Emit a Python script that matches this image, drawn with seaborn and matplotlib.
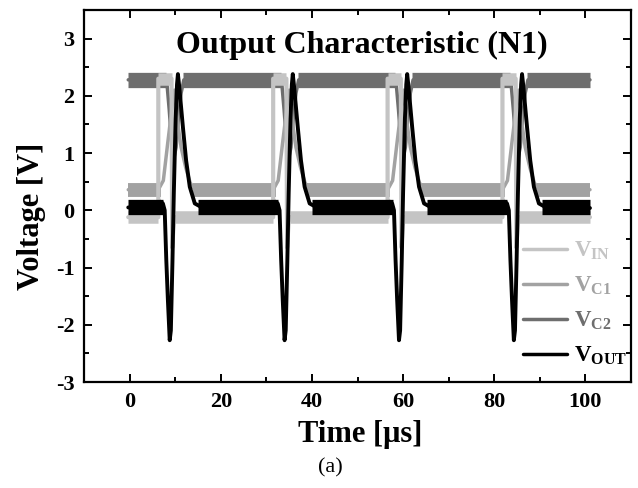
import numpy as np
import pandas as pd
import matplotlib
matplotlib.use('Agg')
import matplotlib.pyplot as plt
import seaborn as sns

# pulse start times (rising edge of V_IN), us
pulse_t0 = [6.3, 31.5, 56.6, 81.8]
t_first, t_last = -0.3, 101.0

# one pulse of each trace, times relative to pulse start
vin_dt = [0.0, 0.0, 2.9, 3.05, 3.4, 3.7]
vin_v = [-0.12, 2.3, 2.3, -0.65, -0.2, -0.12]
vc1_dt = [0.0, 1.1, 2.1, 3.2, 3.5, 3.8, 4.3, 5.0, 6.0, 7.0, 8.0]
vc1_v = [0.36, 0.52, 1.2, 1.92, 2.1, 1.9, 1.5, 1.1, 0.75, 0.48, 0.36]
vc2_dt = [0.0, 1.8, 2.4, 2.9, 3.4, 3.9, 4.4, 5.0, 5.6]
vc2_v = [2.28, 2.3, 1.75, 1.22, 0.9, 1.1, 1.6, 2.05, 2.28]
vout_dt = [0.0, 0.5, 1.0, 1.4, 1.75, 2.1, 2.5, 2.75, 3.1, 3.4, 3.8, 4.1,
           4.3, 4.6, 5.0, 5.4, 6.1, 6.9, 8.0, 9.8]
vout_v = [0.05, 0.15, 0.12, 0.0, -0.87, -1.57, -2.27, -2.1, -0.9, 0.3, 1.6,
          2.2, 2.38, 2.15, 1.8, 1.45, 0.87, 0.41, 0.12, 0.04]

# noisy flat parts: level, where it stops before a pulse, where it resumes after
flat_vin_low = (-0.12, 0.0, 3.6)
flat_vin_high = (2.3, 0.0, 2.9)
flat_vc1 = (0.36, 0.6, 7.5)
flat_vc2 = (2.28, 1.7, 5.4)
flat_vout = (0.05, 1.1, 8.6)

labels = [r'$\mathbf{V_{IN}}$', r'$\mathbf{V_{C1}}$', r'$\mathbf{V_{C2}}$', r'$\mathbf{V_{OUT}}$']
colors = ['#c4c4c4', '#a2a2a2', '#6e6e6e', '#000000']


def build(dt, v):
    t = [t_first]
    y = [v[0]]
    for t0 in pulse_t0:
        t += [t0 + d for d in dt]
        y += list(v)
    t.append(t_last)
    y.append(v[-1])
    return pd.DataFrame({'t': t, 'v': y})


sns.set_theme(style='ticks')
plt.rcParams['font.family'] = ['Liberation Serif', 'DejaVu Serif']
plt.rcParams['mathtext.fontset'] = 'custom'
plt.rcParams['mathtext.rm'] = 'Liberation Serif'
plt.rcParams['mathtext.bf'] = 'Liberation Serif:bold'
plt.rcParams['mathtext.it'] = 'Liberation Serif:italic'
plt.rcParams['axes.unicode_minus'] = False
plt.rcParams['text.color'] = 'black'
plt.rcParams['axes.labelcolor'] = 'black'
plt.rcParams['xtick.color'] = 'black'
plt.rcParams['ytick.color'] = 'black'

fig = plt.figure(figsize=(6.38, 4.88), dpi=100)
ax = fig.add_axes([0.1317, 0.2172, 0.8573, 0.7623])


def flats(level, stop, resume, color, lw, z):
    starts = [t_first] + [t0 + resume for t0 in pulse_t0]
    ends = [t0 + stop for t0 in pulse_t0] + [t_last]
    ax.hlines([level] * len(starts), starts, ends, colors=color, lw=lw, zorder=z)


def high_flats(level, stop, resume, color, lw, z):
    ax.hlines([level] * len(pulse_t0), [t0 + stop for t0 in pulse_t0],
              [t0 + resume for t0 in pulse_t0], colors=color, lw=lw, zorder=z)


# draw order: V_C2, V_C1, V_IN, V_OUT
sns.lineplot(data=build(vc2_dt, vc2_v), x='t', y='v', ax=ax, color=colors[2],
             lw=2.5, sort=False, estimator=None, label=labels[2], zorder=2)
flats(*flat_vc2, colors[2], 11, 2)
sns.lineplot(data=build(vc1_dt, vc1_v), x='t', y='v', ax=ax, color=colors[1],
             lw=2.5, sort=False, estimator=None, label=labels[1], zorder=3)
flats(*flat_vc1, colors[1], 10, 3)
sns.lineplot(data=build(vin_dt, vin_v), x='t', y='v', ax=ax, color=colors[0],
             lw=3, sort=False, estimator=None, label=labels[0], zorder=4)
flats(*flat_vin_low, colors[0], 9, 4)
high_flats(*flat_vin_high, colors[0], 9, 4)
sns.lineplot(data=build(vout_dt, vout_v), x='t', y='v', ax=ax, color=colors[3],
             lw=2.8, sort=False, estimator=None, label=labels[3], zorder=5)
flats(*flat_vout, colors[3], 11, 5)

ax.set_xlim(-10, 110)
ax.set_ylim(-3, 3.5)
ax.set_xticks([0, 20, 40, 60, 80, 100])
ax.set_xticks(np.arange(-10, 111, 10), minor=True)
ax.set_yticks([-3, -2, -1, 0, 1, 2, 3])
ax.set_yticks(np.arange(-3, 3.6, 0.5), minor=True)
ax.tick_params(which='both', direction='in', top=True, right=True,
               width=1.4, colors='black', labelsize=16)
ax.tick_params(which='major', length=6)
ax.tick_params(which='minor', length=3.5)
ax.tick_params(axis='x', which='major', pad=7)
ax.tick_params(axis='y', which='major', pad=7)
for lab in ax.get_xticklabels() + ax.get_yticklabels():
    lab.set_fontweight('bold')
for sp in ax.spines.values():
    sp.set_linewidth(1.6)
    sp.set_color('black')

ax.set_xlabel('Time [μs]', fontsize=22, fontweight='bold')
ax.set_ylabel('Voltage [V]', fontsize=22, fontweight='bold')
ax.xaxis.set_label_coords(0.505, -0.102)
ax.yaxis.set_label_coords(-0.069, 0.446)
ax.text(51, 2.74, 'Output Characteristic (N1)', ha='center', va='baseline',
        fontsize=23, fontweight='bold')

handles, labs = ax.get_legend_handles_labels()
order = [labs.index(l) for l in labels]
leg = ax.legend([handles[i] for i in order], [labs[i] for i in order],
                loc='lower right', bbox_to_anchor=(1.02, 0.0), frameon=False,
                fontsize=16.5, handlelength=1.95, handletextpad=0.3,
                labelspacing=0.55, labelcolor='linecolor', borderaxespad=0.25)
for h in leg.get_lines():
    h.set_linewidth(2.5)

fig.text(0.518, 0.041, '(a)', ha='center', va='center', fontsize=16)

fig.savefig('out.png', dpi=100)
